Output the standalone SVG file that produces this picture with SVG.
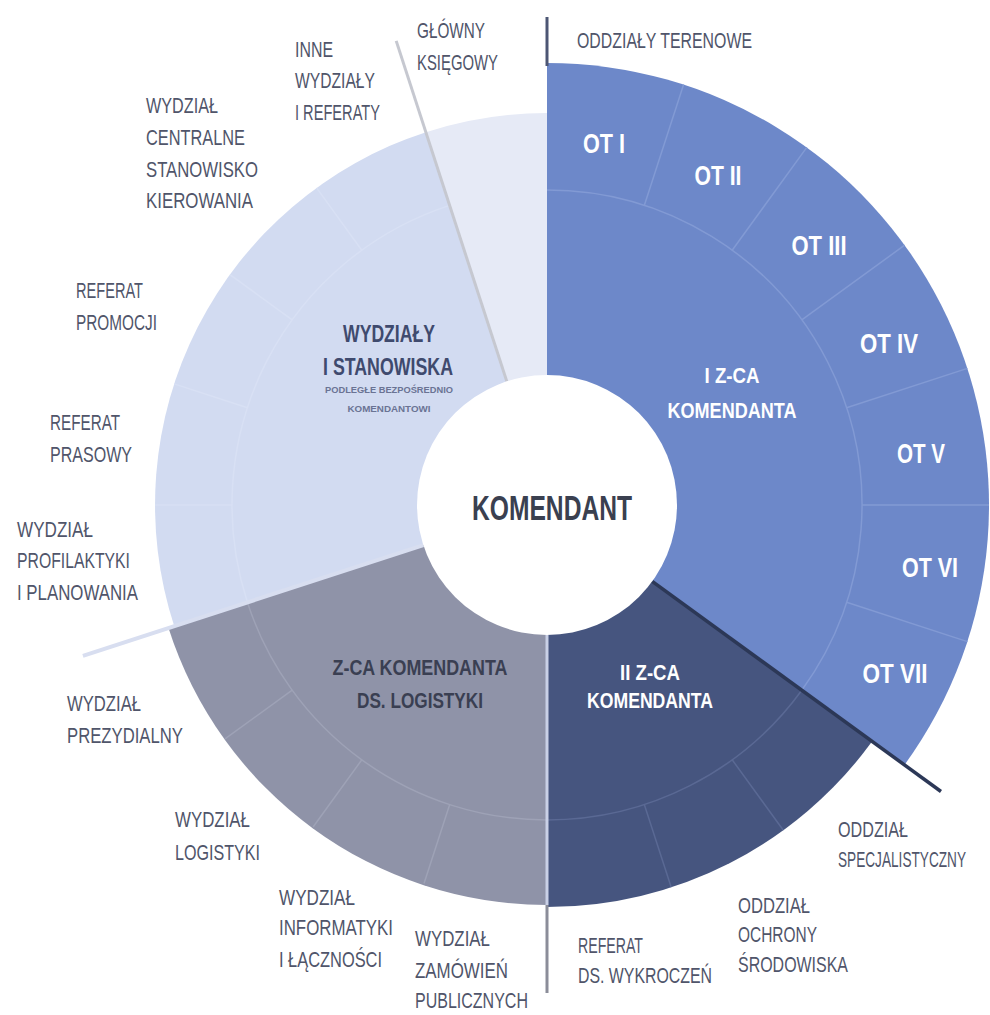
<svg xmlns="http://www.w3.org/2000/svg" width="990" height="1015" viewBox="0 0 990 1015">
<style>
.lbl{font-family:"Liberation Sans Narrow","Liberation Sans",Arial,sans-serif;font-size:22px;fill:#50556a;}
.b{font-family:"Liberation Sans Narrow","Liberation Sans",Arial,sans-serif;font-weight:bold;}
.w{fill:#ffffff;}
.ot{font-size:27px;}
.sub{font-size:22px;}
.div-blue{stroke:#829ad4;stroke-width:1.5;fill:none;}
.div-dark{stroke:#5a6994;stroke-width:1.5;fill:none;}
.div-grey{stroke:#9ea2b6;stroke-width:1.5;fill:none;}
.div-light{stroke:#d8e0f4;stroke-width:1.5;fill:none;}
</style>
<rect width="990" height="1015" fill="#ffffff"/>

<g id="sectors">
  <path id="s-blue" d="M547,505 L547,63 A442,442 0 0 1 904.6,764.8 Z" fill="#6d88c9"/>
  <path id="s-dark" d="M547,505 L872.2,741.3 A402,402 0 0 1 547,907 Z" fill="#46557f"/>
  <path id="s-grey" d="M547,505 L547,905 A398,398 0 0 1 168.5,628 Z" fill="#8f93a8"/>
  <path id="s-light" d="M547,505 L174.2,626.1 A392,392 0 0 1 425.9,132.2 Z" fill="#d2dbf1"/>
  <path id="s-glowny" d="M547,505 L425.9,132.2 A392,392 0 0 1 547,113 Z" fill="#e6eaf6"/>
</g>

<g id="cell-dividers">
  <path class="div-blue" d="M547,190 A315,315 0 0 1 801.8,690.2"/>
  <path class="div-blue" d="M644.3,205.4 L683.6,84.6 M732.2,250.2 L806.8,147.4 M801.8,319.8 L904.6,245.2 M846.6,407.7 L967.4,368.4 M862,505 L989,505 M846.6,602.3 L967.4,641.6"/>
  <path class="div-dark" d="M801.8,690.2 A315,315 0 0 1 547,820 M732.2,759.8 L783.3,830.2 M644.3,804.6 L671.2,887.3"/>
  <path class="div-grey" d="M547,820 A315,315 0 0 1 247.4,602.3 M449.7,804.6 L424,883.5 M361.8,759.8 L313.1,827 M292.2,690.2 L225,738.9"/>
  <path class="div-light" d="M247.4,602.3 A315,315 0 0 1 449.7,205.4 M232,505 L155,505 M247.4,407.7 L174.2,383.9 M292.2,319.8 L229.9,274.6 M361.8,250.2 L316.6,187.9"/>
</g>

<g id="connectors">
  <line x1="547" y1="17" x2="547" y2="66" stroke="#4d5674" stroke-width="3"/>
  <line x1="547" y1="635" x2="547" y2="905" stroke="#c9d0e6" stroke-width="3"/>
  <line x1="547" y1="905" x2="547" y2="993" stroke="#8b8d99" stroke-width="3"/>
  <line x1="652.2" y1="581.4" x2="941" y2="791.5" stroke="#2c3857" stroke-width="3.5"/>
  <line x1="423.4" y1="545.2" x2="82.9" y2="655.8" stroke="#d8def0" stroke-width="4"/>
  <line x1="506.8" y1="381.4" x2="396.2" y2="40.9" stroke="#c6c8d0" stroke-width="3"/>
</g>

<g id="komendant">
  <circle cx="547" cy="505" r="130" fill="#ffffff"/>
  <text class="b" x="552" y="520" font-size="35" fill="#3a4050" text-anchor="middle" textLength="160" lengthAdjust="spacingAndGlyphs">KOMENDANT</text>
</g>

<g id="i-zca">
  <text class="b w sub" x="732" y="383" text-anchor="middle" textLength="55" lengthAdjust="spacingAndGlyphs">I Z-CA</text>
  <text class="b w sub" x="732" y="418" text-anchor="middle" textLength="129" lengthAdjust="spacingAndGlyphs">KOMENDANTA</text>
</g>
<g id="ii-zca">
  <text class="b w sub" x="650" y="680" text-anchor="middle" textLength="60" lengthAdjust="spacingAndGlyphs">II Z-CA</text>
  <text class="b w sub" x="650" y="708" text-anchor="middle" textLength="126" lengthAdjust="spacingAndGlyphs">KOMENDANTA</text>
</g>
<g id="zca-logistyki">
  <text class="b sub" x="420" y="675" fill="#3a3f52" text-anchor="middle" textLength="175" lengthAdjust="spacingAndGlyphs">Z-CA KOMENDANTA</text>
  <text class="b sub" x="420" y="708" fill="#3a3f52" text-anchor="middle" textLength="126" lengthAdjust="spacingAndGlyphs">DS. LOGISTYKI</text>
</g>
<g id="wydzialy-stanowiska">
  <text class="b" x="389" y="342" font-size="23" fill="#3f4a6e" text-anchor="middle" textLength="92" lengthAdjust="spacingAndGlyphs">WYDZIAŁY</text>
  <text class="b" x="388" y="375" font-size="23" fill="#3f4a6e" text-anchor="middle" textLength="130" lengthAdjust="spacingAndGlyphs">I STANOWISKA</text>
  <text class="b" x="389" y="393" font-size="9" fill="#6a7394" text-anchor="middle" textLength="128" lengthAdjust="spacingAndGlyphs">PODLEGŁE BEZPOŚREDNIO</text>
  <text class="b" x="389" y="412" font-size="9" fill="#6a7394" text-anchor="middle" textLength="83" lengthAdjust="spacingAndGlyphs">KOMENDANTOWI</text>
</g>

<g id="ot-cells">
  <text class="b w ot" x="604" y="153" text-anchor="middle" textLength="42" lengthAdjust="spacingAndGlyphs">OT I</text>
  <text class="b w ot" x="718" y="185" text-anchor="middle" textLength="47" lengthAdjust="spacingAndGlyphs">OT II</text>
  <text class="b w ot" x="819" y="255" text-anchor="middle" textLength="55" lengthAdjust="spacingAndGlyphs">OT III</text>
  <text class="b w ot" x="889" y="353" text-anchor="middle" textLength="58" lengthAdjust="spacingAndGlyphs">OT IV</text>
  <text class="b w ot" x="921" y="463" text-anchor="middle" textLength="48" lengthAdjust="spacingAndGlyphs">OT V</text>
  <text class="b w ot" x="930" y="577" text-anchor="middle" textLength="56" lengthAdjust="spacingAndGlyphs">OT VI</text>
  <text class="b w ot" x="895" y="683" text-anchor="middle" textLength="65" lengthAdjust="spacingAndGlyphs">OT VII</text>
</g>

<g id="labels">
  <g id="l-oddzialy-terenowe"><text class="lbl" x="577" y="48" textLength="175" lengthAdjust="spacingAndGlyphs">ODDZIAŁY TERENOWE</text></g>
  <g id="l-glowny">
    <text class="lbl" x="417" y="38" textLength="68" lengthAdjust="spacingAndGlyphs">GŁÓWNY</text>
    <text class="lbl" x="417" y="70" textLength="81" lengthAdjust="spacingAndGlyphs">KSIĘGOWY</text>
  </g>
  <g id="l-inne">
    <text class="lbl" x="295" y="57" textLength="38" lengthAdjust="spacingAndGlyphs">INNE</text>
    <text class="lbl" x="295" y="88" textLength="80" lengthAdjust="spacingAndGlyphs">WYDZIAŁY</text>
    <text class="lbl" x="295" y="120" textLength="85" lengthAdjust="spacingAndGlyphs">I REFERATY</text>
  </g>
  <g id="l-centralne">
    <text class="lbl" x="146" y="113" textLength="72" lengthAdjust="spacingAndGlyphs">WYDZIAŁ</text>
    <text class="lbl" x="146" y="145" textLength="99" lengthAdjust="spacingAndGlyphs">CENTRALNE</text>
    <text class="lbl" x="146" y="177" textLength="112" lengthAdjust="spacingAndGlyphs">STANOWISKO</text>
    <text class="lbl" x="146" y="208" textLength="107" lengthAdjust="spacingAndGlyphs">KIEROWANIA</text>
  </g>
  <g id="l-promocji">
    <text class="lbl" x="76" y="298" textLength="67" lengthAdjust="spacingAndGlyphs">REFERAT</text>
    <text class="lbl" x="76" y="330" textLength="81" lengthAdjust="spacingAndGlyphs">PROMOCJI</text>
  </g>
  <g id="l-prasowy">
    <text class="lbl" x="50" y="430" textLength="70" lengthAdjust="spacingAndGlyphs">REFERAT</text>
    <text class="lbl" x="50" y="462" textLength="82" lengthAdjust="spacingAndGlyphs">PRASOWY</text>
  </g>
  <g id="l-profilaktyki">
    <text class="lbl" x="17" y="537" textLength="76" lengthAdjust="spacingAndGlyphs">WYDZIAŁ</text>
    <text class="lbl" x="17" y="568" textLength="113" lengthAdjust="spacingAndGlyphs">PROFILAKTYKI</text>
    <text class="lbl" x="17" y="600" textLength="121" lengthAdjust="spacingAndGlyphs">I PLANOWANIA</text>
  </g>
  <g id="l-prezydialny">
    <text class="lbl" x="67" y="711" textLength="74" lengthAdjust="spacingAndGlyphs">WYDZIAŁ</text>
    <text class="lbl" x="67" y="743" textLength="116" lengthAdjust="spacingAndGlyphs">PREZYDIALNY</text>
  </g>
  <g id="l-logistyki">
    <text class="lbl" x="175" y="827" textLength="75" lengthAdjust="spacingAndGlyphs">WYDZIAŁ</text>
    <text class="lbl" x="175" y="860" textLength="85" lengthAdjust="spacingAndGlyphs">LOGISTYKI</text>
  </g>
  <g id="l-informatyki">
    <text class="lbl" x="279" y="905" textLength="76" lengthAdjust="spacingAndGlyphs">WYDZIAŁ</text>
    <text class="lbl" x="279" y="935" textLength="114" lengthAdjust="spacingAndGlyphs">INFORMATYKI</text>
    <text class="lbl" x="279" y="967" textLength="103" lengthAdjust="spacingAndGlyphs">I ŁĄCZNOŚCI</text>
  </g>
  <g id="l-zamowien">
    <text class="lbl" x="415" y="946" textLength="75" lengthAdjust="spacingAndGlyphs">WYDZIAŁ</text>
    <text class="lbl" x="415" y="978" textLength="93" lengthAdjust="spacingAndGlyphs">ZAMÓWIEŃ</text>
    <text class="lbl" x="415" y="1008" textLength="113" lengthAdjust="spacingAndGlyphs">PUBLICZNYCH</text>
  </g>
  <g id="l-wykroczen">
    <text class="lbl" x="578" y="953" textLength="65" lengthAdjust="spacingAndGlyphs">REFERAT</text>
    <text class="lbl" x="578" y="983" textLength="134" lengthAdjust="spacingAndGlyphs">DS. WYKROCZEŃ</text>
  </g>
  <g id="l-ochrony">
    <text class="lbl" x="738" y="913" textLength="72" lengthAdjust="spacingAndGlyphs">ODDZIAŁ</text>
    <text class="lbl" x="738" y="942" textLength="79" lengthAdjust="spacingAndGlyphs">OCHRONY</text>
    <text class="lbl" x="738" y="972" textLength="110" lengthAdjust="spacingAndGlyphs">ŚRODOWISKA</text>
  </g>
  <g id="l-specjalistyczny">
    <text class="lbl" x="838" y="837" textLength="70" lengthAdjust="spacingAndGlyphs">ODDZIAŁ</text>
    <text class="lbl" x="838" y="867" font-size="17" textLength="128" lengthAdjust="spacingAndGlyphs">SPECJALISTYCZNY</text>
  </g>
</g>
</svg>
